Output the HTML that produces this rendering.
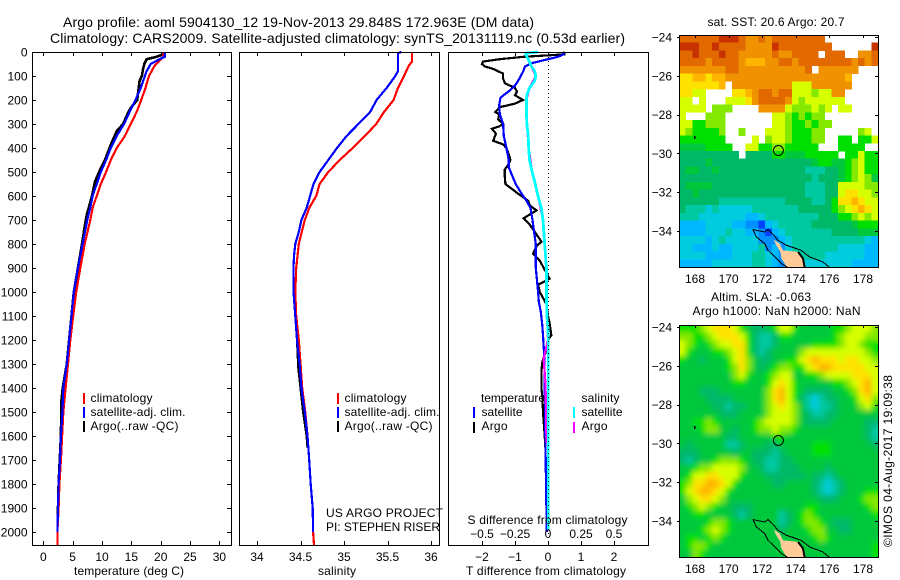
<!DOCTYPE html>
<html>
<head>
<meta charset="utf-8">
<title>Argo profile</title>
<style>
html,body{margin:0;padding:0;background:#fff;}
svg{display:block;}
text{font-family:"Liberation Sans",sans-serif;font-size:12px;fill:#000;}
.t14{font-size:14px;}
.line{fill:none;shape-rendering:crispEdges;stroke-linejoin:miter;}
.ax{shape-rendering:crispEdges;stroke:#000;stroke-width:1;fill:none;}
</style>
</head>
<body>
<svg id="root" width="900" height="580" viewBox="0 0 900 580">
<defs>
<clipPath id="clip-sst"><rect x="679" y="35" width="199" height="232"/></clipPath>
<clipPath id="clip-sla"><rect x="679" y="325" width="199" height="232"/></clipPath>
<filter id="soft" x="-10%" y="-10%" width="120%" height="120%"><feGaussianBlur stdDeviation="2.6"/></filter>
</defs>
<text class="t14" x="63" y="27" textLength="471">Argo profile: aoml 5904130_12 19-Nov-2013 29.848S 172.963E (DM data)</text>
<text class="t14" x="50" y="43" textLength="575">Climatology: CARS2009. Satellite-adjusted climatology: synTS_20131119.nc (0.53d earlier)</text>

<g id="layer-data"></g>
<g id="layer-axes"></g>

<text x="74" y="575" textLength="110">temperature (deg C)</text>
<text x="318" y="575" textLength="38">salinity</text>
<text x="466" y="575" textLength="160">T difference from climatology</text>
<text x="467.5" y="524" textLength="160">S difference from climatology</text>

<g>
<rect x="83" y="393" width="2" height="11" fill="#f00"/>
<rect x="83" y="407" width="2" height="11" fill="#00f"/>
<rect x="83" y="421" width="2" height="11" fill="#000"/>
<text x="90.5" y="402" textLength="62">climatology</text>
<text x="90.5" y="416" textLength="95">satellite-adj. clim.</text>
<text x="90.5" y="430" textLength="88">Argo(..raw -QC)</text>
</g>
<g>
<rect x="337" y="393" width="2" height="11" fill="#f00"/>
<rect x="337" y="407" width="2" height="11" fill="#00f"/>
<rect x="337" y="421" width="2" height="11" fill="#000"/>
<text x="344.5" y="402" textLength="62">climatology</text>
<text x="344.5" y="416" textLength="95">satellite-adj. clim.</text>
<text x="344.5" y="430" textLength="88">Argo(..raw -QC)</text>
</g>
<g>
<rect x="473" y="407" width="2" height="11" fill="#00f"/>
<rect x="473" y="422" width="2" height="11" fill="#000"/>
<rect x="573" y="407" width="2" height="11" fill="#0ff"/>
<rect x="573" y="422" width="2" height="11" fill="#f0f"/>
<text x="481" y="402" textLength="64">temperature</text>
<text x="481.5" y="416" textLength="41">satellite</text>
<text x="481.5" y="430" textLength="26">Argo</text>
<text x="581.5" y="402" textLength="38">salinity</text>
<text x="581.5" y="416" textLength="41">satellite</text>
<text x="581.5" y="430" textLength="26">Argo</text>
</g>
<text x="326" y="517" textLength="117">US ARGO PROJECT</text>
<text x="326" y="531" textLength="114">PI: STEPHEN RISER</text>

<text x="707.5" y="26" textLength="137">sat. SST: 20.6 Argo: 20.7</text>
<text x="711" y="301" textLength="100">Altim. SLA: -0.063</text>
<text x="692.5" y="315" textLength="168">Argo h1000: NaN h2000: NaN</text>
<g id="layer-maps"></g>
<text transform="translate(892,547) rotate(-90)" textLength="172">©IMOS 04-Aug-2017 19:09:38</text>
</svg>

<script>
// ---------- profile data ----------
const climDepths = [0,20,40,60,100,150,200,250,300,350,400,450,500,550,600,650,700,800,900,1000,1100,1200,1300,1400,1500,1600,1700,1800,1900,2000,2054];
const tempClim = [20.3,20.5,19.6,18.9,18.0,17.4,16.7,15.9,14.9,13.9,12.5,11.5,10.7,9.8,9.1,8.4,8.0,7.05,6.3,5.6,5.1,4.6,4.2,3.8,3.4,3.2,3.0,2.75,2.6,2.4,2.4];

const tempSatDepths = [0,20,30,50,80,100,150,200,250,300,350,400,450,500,550,600,650,700,800,900,1000,1100,1200,1300,1400,1500,1600,1700,1800,1900,2000];
const tempSat = [20.7,20.7,19.8,18.3,17.6,17.3,16.6,15.7,14.7,13.75,12.5,11.5,10.7,9.8,9.1,8.4,8.0,7.5,6.7,5.9,5.2,4.8,4.4,4.0,3.4,3.25,3.0,2.85,2.6,2.5,2.4];

const tempArgoDepths = [0,10,20,30,50,70,100,120,150,200,230,250,300,330,380,450,500,540,600,680,720,800,900,1000,1100,1200,1300,1400,1450,1600,1800,1950];
const tempArgo = [20.4,20.4,19.3,17.6,17.2,17.0,16.8,16.4,16.25,16.0,15.0,14.5,13.6,12.5,11.6,10.5,9.5,8.8,8.3,7.4,7.1,6.6,5.9,5.2,4.8,4.4,4.0,3.3,3.1,3.0,2.6,2.45];

const salClim = [35.78,35.78,35.78,35.74,35.69,35.62,35.57,35.46,35.37,35.24,35.10,34.95,34.82,34.72,34.68,34.60,34.55,34.48,34.45,34.44,34.45,34.48,34.50,34.52,34.555,34.58,34.60,34.617,34.64,34.645,34.655];

const salSatDepths = [0,5,10,30,80,100,150,200,250,300,350,400,450,500,550,600,650,700,750,800,850,900,1000,1100,1200,1300,1400,1500,1600,1700,1800,1900,2000];
const salSat = [35.66,35.62,35.62,35.62,35.62,35.59,35.49,35.375,35.30,35.165,35.03,34.92,34.82,34.72,34.65,34.61,34.57,34.51,34.48,34.44,34.425,34.42,34.42,34.44,34.46,34.49,34.51,34.55,34.58,34.60,34.617,34.64,34.645];

const salArgoDepths = [0,5,10,30,80,100,150,200,250,300,350,400,450,500,550,600,650,700,750,800,850,900,1000,1100,1200,1280,1300,1400,1500,1600,1650];
const salArgo = [35.66,35.62,35.62,35.62,35.62,35.59,35.49,35.375,35.30,35.165,35.03,34.92,34.82,34.72,34.65,34.61,34.57,34.51,34.48,34.44,34.425,34.42,34.42,34.44,34.46,34.47,34.47,34.50,34.53,34.57,34.58];

const dtArgoDepths = [0,5,10,20,30,40,50,60,70,90,110,130,150,165,180,200,215,230,250,260,280,300,310,320,340,370,385,400,430,450,470,490,520,550,590,620,640,660,693,720,750,790,810,840,870,920,945,970,1000,1050,1100,1130,1180,1200,1250,1290,1330,1400,1440,1500,1600,1650];
const dtArgo = [0.45,0.5,0.5,-0.75,-1.46,-1.97,-2.0,-1.92,-1.67,-1.36,-1.36,-1.31,-1.0,-0.94,-1.0,-0.76,-1.0,-1.46,-1.6,-1.48,-1.51,-1.36,-1.48,-1.7,-1.58,-1.66,-1.36,-1.26,-1.18,-1.14,-1.21,-1.31,-1.31,-1.29,-0.91,-0.6,-0.55,-0.35,-0.74,-0.55,-0.4,-0.2,-0.35,-0.45,-0.25,-0.05,0.05,-0.3,-0.25,-0.05,0,0.05,0.1,0,-0.07,-0.17,-0.2,-0.2,-0.17,-0.15,-0.1,-0.08];

const dtSatDepths = [0,10,20,30,45,60,80,110,140,165,190,220,260,300,350,400,450,480,510,550,590,620,650,700,750,800,900,1000,1040,1080,1130,1180,1250,1300,1400,1500,1700,1800,1900,2000];
const dtSat = [0.45,0.47,0.3,0,-0.45,-0.7,-0.75,-0.86,-1.0,-1.2,-1.44,-1.48,-1.46,-1.36,-1.34,-1.26,-1.19,-1.19,-1.1,-0.98,-0.8,-0.65,-0.53,-0.47,-0.42,-0.37,-0.37,-0.3,-0.28,-0.22,-0.18,-0.15,-0.12,-0.11,-0.1,-0.09,-0.07,-0.06,-0.05,-0.04];

const dsSatDepths = [0,3,5,20,40,60,80,100,120,150,180,200,250,300,350,400,450,500,550,600,650,700,800,900,1000,1100,1150,1200,1300,1600,1992];
const dsSat = [-0.076,-0.12,-0.17,-0.16,-0.14,-0.126,-0.1,-0.093,-0.1,-0.14,-0.16,-0.164,-0.164,-0.16,-0.15,-0.146,-0.14,-0.12,-0.096,-0.076,-0.05,-0.038,-0.025,-0.012,-0.012,-0.008,0,0.002,0.002,0.002,0.002];

const dsArgoDepths = [0,5,20,60,100,150,200,300,400,500,600,700,800,900,1000,1100,1200,1280,1350,1400,1500,1600,1630];
const dsArgo = [-0.076,-0.17,-0.16,-0.126,-0.093,-0.14,-0.164,-0.16,-0.146,-0.12,-0.076,-0.038,-0.025,-0.012,-0.012,-0.008,0,-0.033,-0.023,-0.018,-0.015,-0.012,-0.012];

// ---------- tick labels ----------
const depthTicks = [0,100,200,300,400,500,600,700,800,900,1000,1100,1200,1300,1400,1500,1600,1700,1800,1900,2000];
const tempTicks = [0,5,10,15,20,25,30];
const salTicks = [34,34.5,35,35.5,36];
const dtTicks = [-2,-1,0,1,2];
const dsTicks = [-0.5,-0.25,0,0.25,0.5];
const lonTicks = [168,170,172,174,176,178];
const latTicks = [-24,-26,-28,-30,-32,-34];

// ---------- map data: colour level per cell, 0 = no data ----------
const sstLevels = [
[14,14,14,14,14,14,15,15,15,14,13,13,14,13,14,14,14,14,14,14,14,14,0,0,0,0,0,0,0,0],
[15,15,15,14,14,15,14,14,14,14,13,13,13,13,15,14,14,14,14,14,14,14,14,0,0,0,0,0,0,15],
[14,14,15,14,14,14,15,14,14,13,13,13,13,13,14,13,13,14,14,14,14,0,14,14,14,0,0,13,13,14],
[14,14,14,14,13,14,14,14,14,13,12,12,12,13,13,14,14,13,14,14,14,14,14,14,14,14,13,14,13,14],
[13,13,13,13,13,13,13,14,14,13,13,13,13,13,13,13,13,13,13,14,0,13,13,13,13,13,13,0,0,0],
[11,11,12,12,11,12,12,13,13,13,13,13,13,13,13,13,13,13,13,13,13,13,13,13,13,12,0,0,0,0],
[11,11,11,11,11,11,12,0,13,13,13,13,13,13,13,13,13,10,10,10,13,13,13,13,13,13,0,0,0,0],
[11,11,10,10,0,0,0,0,11,11,12,13,14,14,13,14,14,10,10,10,9,10,10,13,13,0,0,0,0,0],
[10,10,0,10,0,0,0,10,10,10,11,13,14,14,14,14,13,10,9,10,10,10,10,10,10,0,0,0,0,0],
[10,10,10,10,0,9,9,9,0,0,0,0,13,13,13,13,10,9,9,9,10,9,10,0,10,10,0,0,0,0],
[10,0,0,0,9,9,9,0,0,0,0,0,0,0,10,10,9,8,9,8,9,9,0,0,0,0,0,0,0,0],
[10,10,8,8,9,9,9,0,0,0,0,0,0,0,10,10,9,8,8,9,8,9,9,0,0,0,0,0,0,0],
[10,9,8,8,8,8,9,0,0,9,0,0,0,10,10,10,9,8,8,8,9,9,0,0,0,0,0,9,10,0],
[8,8,8,8,8,8,8,0,0,0,0,10,0,9,10,10,9,8,8,8,9,9,0,0,8,8,0,8,8,10],
[7,7,7,7,8,8,8,8,0,0,10,10,8,8,9,9,8,8,8,8,8,0,0,0,8,8,8,8,0,0],
[6,6,6,6,6,6,6,6,6,0,6,6,6,6,8,8,7,7,7,8,8,8,8,8,0,8,8,10,8,8],
[6,6,6,6,7,6,6,6,6,6,6,6,6,6,6,6,6,6,6,6,7,8,8,7,7,8,9,10,8,8],
[6,7,7,6,6,7,6,6,6,6,6,6,6,6,6,6,6,6,6,5,5,5,6,6,7,8,9,10,8,8],
[6,6,6,6,6,6,6,6,6,6,6,6,6,6,6,6,6,6,6,6,5,6,6,6,7,8,9,10,9,7],
[6,7,7,7,7,6,6,6,6,6,6,6,6,6,6,6,6,6,6,5,5,5,6,6,10,10,10,10,9,9],
[6,6,7,6,6,6,6,6,6,6,6,6,6,6,6,6,6,6,6,5,5,5,6,6,10,11,11,10,10,9],
[6,6,6,6,6,6,5,5,5,5,5,5,5,5,5,5,6,6,6,6,5,5,6,8,11,11,12,11,10,10],
[6,5,5,5,4,5,4,4,4,4,4,5,5,5,5,5,5,5,6,6,6,6,6,8,9,10,11,12,11,10],
[5,5,5,4,4,4,4,4,4,4,3,3,4,5,5,5,5,5,5,5,5,6,6,6,8,8,9,10,9,10],
[3,3,3,3,4,4,4,4,3,3,2,2,1,3,4,5,5,5,5,5,6,6,6,6,6,6,7,8,8,8],
[3,3,3,3,4,4,4,5,4,4,3,3,2,1,3,4,5,5,5,5,5,5,5,6,6,6,6,7,7,7],
[4,4,4,4,3,4,5,4,4,4,4,4,2,2,2,3,4,5,5,5,5,5,5,5,5,5,5,5,4,3],
[4,4,3,3,3,4,3,3,4,4,4,4,5,2,3,2,4,5,5,5,5,5,5,5,4,4,4,4,3,3],
[4,4,4,4,3,3,3,3,4,4,4,5,5,4,3,2,2,5,5,5,5,5,4,4,4,4,4,4,3,3],
[3,3,3,3,3,4,4,4,4,4,4,5,5,4,3,2,2,4,4,4,4,4,4,4,4,4,3,3,3,3]
];
const slaLevels = [
[8,8,8,9,10,11,11,11,10,8,7,6,6,7,8,10,10,8,7,7,7,7,7,8,8,9,10,10,10,9],
[9,9,8,8,9,10,11,11,11,10,8,6,5,5,6,8,8,7,7,7,7,7,7,8,9,10,10,10,9,9],
[10,9,8,7,8,9,10,10,11,11,8,6,5,5,6,7,7,7,7,7,8,8,8,8,9,10,10,9,8,8],
[10,8,7,7,7,8,8,9,10,11,8,6,5,6,7,7,7,7,9,10,10,10,10,10,10,10,10,10,9,8],
[8,7,7,6,7,7,7,8,10,11,9,7,6,6,7,7,8,8,10,11,12,11,11,11,10,11,11,10,10,9],
[7,7,7,7,7,7,7,8,9,11,9,7,6,7,8,9,9,8,8,10,11,12,12,11,11,11,11,11,10,10],
[7,7,7,7,7,7,7,7,9,10,8,7,7,8,9,10,10,7,7,8,8,9,10,10,10,10,11,11,11,10],
[7,7,7,7,7,7,7,7,8,8,7,7,7,8,10,11,10,8,7,7,7,7,7,8,8,9,10,11,12,10],
[7,7,7,6,6,6,7,7,7,7,7,7,7,9,11,12,10,8,7,6,6,6,6,7,7,8,9,11,12,10],
[7,7,7,7,6,6,6,6,7,7,7,7,7,9,11,12,10,8,6,5,4,5,6,6,7,7,8,10,11,9],
[7,7,7,7,7,6,6,5,6,6,7,7,7,9,10,11,10,9,7,5,4,5,5,6,7,7,7,9,10,8],
[7,7,7,7,7,7,6,6,6,7,7,7,7,9,10,10,10,9,7,6,5,5,6,6,7,7,7,7,7,7],
[7,7,8,8,9,8,7,7,7,7,7,8,9,10,10,10,10,9,7,6,6,6,6,7,7,7,7,7,6,6],
[7,7,7,8,9,9,7,7,6,7,7,8,9,9,10,9,9,8,7,7,7,7,7,7,7,7,7,7,6,5],
[7,7,7,7,7,7,7,6,6,7,7,7,7,7,8,8,7,7,7,7,7,7,7,7,7,7,7,7,6,5],
[7,6,7,7,7,7,7,5,5,6,7,7,7,6,6,7,7,7,7,7,8,8,8,7,7,7,7,7,7,6],
[6,6,6,7,7,7,7,7,6,7,7,6,6,6,5,6,7,7,7,7,8,8,8,7,7,7,7,7,7,7],
[6,5,6,7,7,8,9,9,9,8,7,6,6,5,5,6,6,7,7,7,7,7,7,7,7,7,7,7,7,7],
[7,7,8,9,9,10,10,10,10,9,7,7,6,5,5,6,6,6,7,7,7,7,6,7,7,7,7,7,7,7],
[7,8,10,10,11,11,10,10,10,8,7,7,7,6,6,6,6,6,6,7,6,6,5,6,7,7,7,7,7,7],
[8,9,11,11,12,12,11,10,8,7,7,7,7,7,6,6,7,7,7,7,6,5,4,5,6,7,7,7,7,7],
[8,10,11,12,12,11,10,8,7,7,7,7,7,7,7,7,7,7,7,7,6,5,4,5,6,7,7,7,8,8],
[7,9,10,11,11,10,9,7,7,7,7,7,7,7,7,7,7,7,7,7,7,6,6,6,7,7,7,8,9,9],
[7,8,9,10,9,8,7,7,6,6,6,7,7,7,7,7,7,7,7,8,8,7,7,7,7,7,7,7,8,9],
[7,7,8,8,7,7,7,7,6,5,6,7,7,7,7,5,6,7,8,9,8,7,7,7,7,7,7,7,7,8],
[7,7,7,7,8,9,9,8,7,7,7,7,7,7,7,5,6,7,8,9,9,8,7,6,6,6,7,7,7,7],
[7,7,7,8,9,10,9,8,7,7,7,7,7,7,7,6,7,7,7,8,9,9,7,7,6,6,7,7,7,7],
[7,8,8,7,8,9,8,7,7,7,7,7,7,7,7,7,7,7,7,7,8,9,8,7,7,7,7,7,7,7],
[7,8,9,9,8,7,7,7,7,7,7,7,7,7,7,7,7,7,7,7,7,7,7,7,7,7,7,7,7,8],
[7,7,9,8,7,7,7,7,7,7,7,7,7,7,7,7,7,7,7,7,7,7,7,7,7,7,7,7,7,8]
];
const levelColors = ["#ffffff","#0040ff","#0090ff","#00b8ff","#00ccdd","#00c8a0","#00b868","#00c83c","#00e000","#84e800","#d6ff00","#ffe100","#ffb400","#f09100","#e16900","#c83200","#af0000"];

// coast contours and land, lon/lat
const shelfALon = [171.45,171.65,172.15,172.35,172.65,173.14,173.54];
const shelfALat = [-33.93,-34.3,-34.65,-35.0,-35.25,-35.68,-35.89];
const shelfBLon = [171.45,172.15,172.35,172.65,172.94,173.44,174.03,174.33,174.83,175.62,176.02];
const shelfBLat = [-33.93,-34.05,-33.93,-34.17,-34.48,-34.74,-34.91,-35.0,-35.34,-35.6,-35.89];
const landLon = [172.68,173.04,173.24,173.64,174.13,174.43,174.53,173.48,173.14,173.08,172.84];
const landLat = [-34.44,-34.65,-35.0,-35.03,-35.08,-35.42,-35.89,-35.89,-35.42,-35.08,-34.74];
const landEdgeLon = [174.13,174.43,174.53];
const landEdgeLat = [-35.08,-35.42,-35.89];
const floatLon = 172.963;
const floatLat = -29.848;
const speckLon = 167.94;
const speckLat = -29.1;

// ---------- scales ----------
const NS = "http://www.w3.org/2000/svg";
const yDepth = d => 52 + 0.24 * d;
const xTemp = v => 43.3 + 5.87 * v;
const xSal = v => 257 + 87 * (v - 34);
const xDT = v => 548 + 33 * v;
const xDS = v => 548 + 132 * v;
const PANELS = [
  {l:32, r:231, name:"temperature", ticks:true},
  {l:239.5, r:439.5, name:"salinity", ticks:false},
  {l:448, r:648, name:"difference", ticks:false}
];
const TOP = 52, BOTTOM = 545;

const dataLayer = document.getElementById("layer-data");
const axesLayer = document.getElementById("layer-axes");
const mapsLayer = document.getElementById("layer-maps");

function make(tag, parent, attrs) {
  const el = document.createElementNS(NS, tag);
  for (const k in attrs) el.setAttribute(k, attrs[k]);
  parent.appendChild(el);
  return el;
}

function drawLine(values, depths, xScale, color, name, width) {
  const pts = values.map((v, i) => xScale(v).toFixed(1) + "," + yDepth(depths[i]).toFixed(1)).join(" ");
  const el = make("polyline", dataLayer, {class:"line", points:pts, stroke:color, "stroke-width":width || 2.2});
  
  
}

function label(parent, x, y, txt, anchor, name) {
  const el = make("text", parent, {x:x, y:y, "text-anchor":anchor});
  el.textContent = txt;
  
  
}

function tickMark(parent, x1, y1, x2, y2) {
  const el = make("line", parent, {class:"ax", x1:x1, y1:y1, x2:x2, y2:y2});
  
  
}

const fmt = v => String(v).replace("-", "\u2212");
const px = v => Math.round(v) + 0.5;

// ---------- profile lines ----------
drawLine(tempArgo, tempArgoDepths, xTemp, "#000", "temperature-argo-line", 2.6);
drawLine(tempClim, climDepths, xTemp, "#f00", "temperature-climatology-line");
drawLine(tempSat, tempSatDepths, xTemp, "#00f", "temperature-satellite-line");

drawLine(salArgo, salArgoDepths, xSal, "#000", "salinity-argo-line");
drawLine(salClim, climDepths, xSal, "#f00", "salinity-climatology-line");
drawLine(salSat, salSatDepths, xSal, "#00f", "salinity-satellite-line");

drawLine(dtArgo, dtArgoDepths, xDT, "#000", "t-difference-argo-line", 2.2);
drawLine(dtSat, dtSatDepths, xDT, "#00f", "t-difference-satellite-line");
drawLine(dsArgo, dsArgoDepths, xDS, "#f0f", "s-difference-argo-line");
drawLine(dsSat, dsSatDepths, xDS, "#0ff", "s-difference-satellite-line", 2.8);

// ---------- axes ----------
PANELS.forEach(p => {
  const frame = make("rect", axesLayer, {class:"ax", x:Math.floor(p.l)+0.5, y:TOP+0.5, width:Math.round(p.r-p.l), height:BOTTOM-TOP});
  
  
  if (p.ticks) {
    depthTicks.forEach(d => {
      tickMark(axesLayer, Math.round(p.r)-4, px(yDepth(d)), Math.round(p.r), px(yDepth(d)));
      tickMark(axesLayer, p.l, px(yDepth(d)), p.l+4, px(yDepth(d)));
    });
  }
});
const zeroLine = make("line", axesLayer, {x1:548.5, y1:TOP+1, x2:548.5, y2:BOTTOM, stroke:"#000", "stroke-dasharray":"1 3", "shape-rendering":"crispEdges"});



depthTicks.forEach(d => label(axesLayer, 27.5, yDepth(d) + 4.5, String(d), "end", "y-tick-label"));
tempTicks.forEach(v => {
  tickMark(axesLayer, px(xTemp(v)), TOP, px(xTemp(v)), TOP + 4);
  tickMark(axesLayer, px(xTemp(v)), BOTTOM - 4, px(xTemp(v)), BOTTOM);
  label(axesLayer, xTemp(v), 561, String(v), "middle", "x-tick-label-temperature");
});
salTicks.forEach(v => {
  tickMark(axesLayer, px(xSal(v)), TOP, px(xSal(v)), TOP + 4);
  tickMark(axesLayer, px(xSal(v)), BOTTOM - 4, px(xSal(v)), BOTTOM);
  label(axesLayer, xSal(v), 561, String(v), "middle", "x-tick-label-salinity");
});
dtTicks.forEach(v => {
  tickMark(axesLayer, px(xDT(v)), TOP, px(xDT(v)), TOP + 4);
  tickMark(axesLayer, px(xDT(v)), BOTTOM - 4, px(xDT(v)), BOTTOM);
  label(axesLayer, xDT(v), 561, fmt(v), "middle", "x-tick-label-t-difference");
});
dsTicks.forEach(v => {
  label(axesLayer, xDS(v), 538, fmt(v), "middle", "x-tick-label-s-difference");
});

// ---------- maps ----------
const MAP_LEFT = 679, MAP_W = 199, MAP_H = 232;
const xLon = lon => 695 + 16.8 * (lon - 168);
function drawMap(levels, top, clipId, name, tickY, smooth) {
  const yLat = lat => top + 2.2 + 19.38 * (-24 - lat);
  const g = make("g", mapsLayer, {"clip-path":"url(#" + clipId + ")"});
  
  
  const cells = make("g", g, smooth ? {filter:"url(#soft)"} : {});
  
  
  const nRows = levels.length;
  const pad = smooth ? 12 : 0;
  levels.forEach((row, r) => {
    const cw = MAP_W / row.length, ch = MAP_H / nRows;
    row.forEach((lvl, c) => {
      if (lvl === 0) return;
      const padL = c === 0 ? pad : 0, padR = c === row.length - 1 ? pad : 0;
      const padT = r === 0 ? pad : 0, padB = r === nRows - 1 ? pad : 0;
      const cell = make("rect", cells, {
        x:(MAP_LEFT + c * cw - padL).toFixed(2),
        y:(top + r * ch - padT).toFixed(2),
        width:(cw + 0.3 + padL + padR).toFixed(2),
        height:(ch + 0.3 + padT + padB).toFixed(2),
        fill:levelColors[lvl],
        "shape-rendering":"crispEdges"
      });
      
      
    });
  });
  const toPts = (lons, lats) => lons.map((v, i) => xLon(v).toFixed(1) + "," + yLat(lats[i]).toFixed(1)).join(" ");
  const land = make("polygon", g, {points:toPts(landLon, landLat), fill:"#ffcc99", stroke:"none"});
  
  
  const edge = make("polyline", g, {points:toPts(landEdgeLon, landEdgeLat), fill:"none", stroke:"#000", "stroke-width":2, "shape-rendering":"crispEdges"});
  
  
  const coastA = make("polyline", g, {points:toPts(shelfALon, shelfALat), fill:"none", stroke:"#000", "stroke-width":1, "shape-rendering":"crispEdges"});
  
  
  const coastB = make("polyline", g, {points:toPts(shelfBLon, shelfBLat), fill:"none", stroke:"#000", "stroke-width":1, "shape-rendering":"crispEdges"});
  
  
  const speck = make("rect", g, {x:xLon(speckLon).toFixed(1), y:yLat(speckLat).toFixed(1), width:1.5, height:3, fill:"#000", "shape-rendering":"crispEdges"});
  
  
  const marker = make("circle", mapsLayer, {cx:xLon(floatLon).toFixed(1), cy:(yLat(floatLat)).toFixed(1), r:5, fill:"none", stroke:"#000", "stroke-width":1});
  
  
  const frame = make("rect", mapsLayer, {class:"ax", x:MAP_LEFT + 0.5, y:top + 0.5, width:MAP_W, height:MAP_H});
  
  
  lonTicks.forEach(lon => {
    tickMark(mapsLayer, px(xLon(lon)), top, px(xLon(lon)), top + 3);
    label(mapsLayer, xLon(lon), tickY, String(lon), "middle", "map-lon-tick-label");
  });
  latTicks.forEach(lat => {
    tickMark(mapsLayer, MAP_LEFT - 2, px(yLat(lat)), MAP_LEFT, px(yLat(lat)));
    tickMark(mapsLayer, MAP_LEFT + MAP_W - 3, px(yLat(lat)), MAP_LEFT + MAP_W, px(yLat(lat)));
    label(mapsLayer, 672, yLat(lat) + 4.5, fmt(lat), "end", "map-lat-tick-label");
  });
}
drawMap(sstLevels, 35, "clip-sst", "sst-map", 283, false);
drawMap(slaLevels, 325, "clip-sla", "sla-map", 573, true);
</script>
</body>
</html>
